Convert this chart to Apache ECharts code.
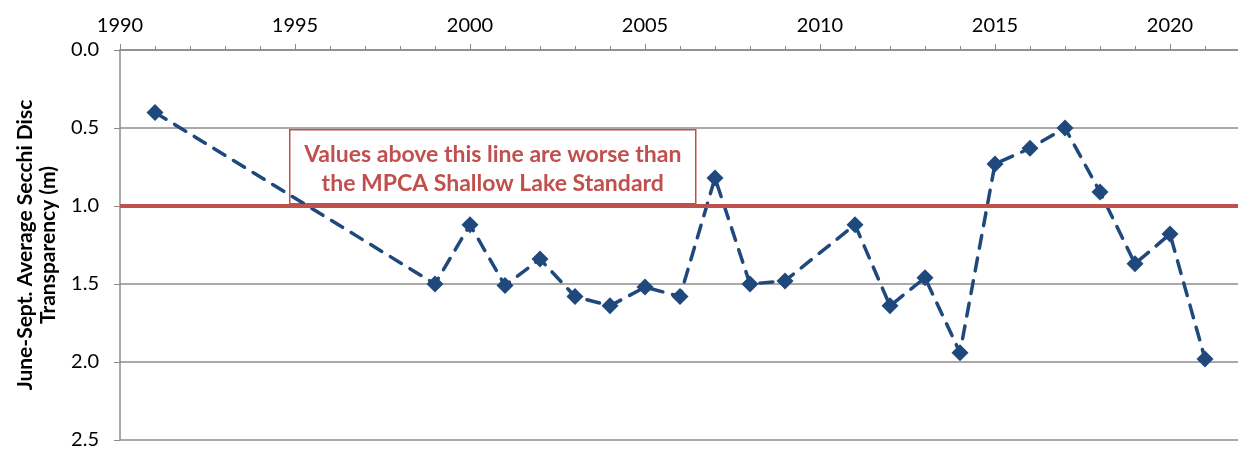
<!DOCTYPE html>
<html>
<head>
<meta charset="utf-8">
<script src="https://cdn.jsdelivr.net/npm/echarts@6/dist/echarts.min.js"></script>
<style>
html,body{margin:0;padding:0;background:#fff;}
#chart{width:1238px;height:453px;}
</style>
</head>
<body>
<div id="chart"></div>
<script>
var years = [1991, 1999, 2000, 2001, 2002, 2003, 2004, 2005, 2006, 2007, 2008, 2009, 2011, 2012, 2013, 2014, 2015, 2016, 2017, 2018, 2019, 2020, 2021];
var secchi = [0.40, 1.50, 1.12, 1.51, 1.34, 1.58, 1.64, 1.52, 1.58, 0.82, 1.50, 1.48, 1.12, 1.64, 1.46, 1.94, 0.73, 0.63, 0.50, 0.91, 1.37, 1.18, 1.98];
var standard = 1.0;
var yAxisTitle = 'June-Sept. Average Secchi Disc\nTransparency (m)';
var noteLines = 'Values above this line are worse than\nthe MPCA Shallow Lake Standard';

var FONT = 'Lato';
var chart = echarts.init(document.getElementById('chart'), null, {renderer: 'canvas'});
var data = years.map(function (y, i) { return [y, secchi[i]]; });

chart.setOption({
  animation: false,
  backgroundColor: '#ffffff',
  grid: {left: 120, right: -2, top: 50, bottom: 13, containLabel: false, outerBoundsMode: 'none'},
  xAxis: {
    type: 'value', position: 'top', min: 1990, max: 2022, interval: 5,
    axisLine: {show: true, onZero: false, lineStyle: {color: '#8c8c8c', width: 1.5}},
    axisTick: {show: true, inside: false, length: 6, lineStyle: {color: '#8c8c8c', width: 1}},
    minorTick: {show: true, splitNumber: 5, length: 4, lineStyle: {color: '#8c8c8c', width: 1}},
    axisLabel: {color: '#000', fontFamily: FONT, fontSize: 20, margin: 14, showMaxLabel: false,
      formatter: function (v) { return v % 5 === 0 ? String(v) : ''; }},
    splitLine: {show: false}
  },
  yAxis: {
    type: 'value', inverse: true, min: 0, max: 2.5, interval: 0.5,
    name: yAxisTitle, nameLocation: 'middle', nameRotate: 90, nameGap: 59,
    nameTextStyle: {color: '#000', fontFamily: FONT, fontSize: 21, fontWeight: 'bold', lineHeight: 23, align: 'center'},
    axisLine: {show: true, lineStyle: {color: '#8c8c8c', width: 1.5}},
    axisTick: {show: true, inside: false, length: 6, lineStyle: {color: '#8c8c8c'}},
    axisLabel: {color: '#000', fontFamily: FONT, fontSize: 20, margin: 21, formatter: function (v) { return v.toFixed(1); }},
    splitLine: {show: true, lineStyle: {color: '#8c8c8c', width: 1.5}}
  },
  series: [{
    type: 'line', data: data,
    symbol: 'diamond', symbolSize: 17,
    itemStyle: {color: '#1F497D'},
    lineStyle: {color: '#1F497D', width: 3.5, type: [13, 10], cap: 'round'},
    markLine: {
      silent: true, symbol: 'none', label: {show: false},
      lineStyle: {color: '#C0504D', width: 4, type: 'solid'},
      data: [{yAxis: standard}]
    },
    z: 3
  }],
  graphic: [{
    type: 'group', left: 289, top: 129, z: 10,
    children: [
      {type: 'rect', shape: {x: 0, y: 0, width: 406, height: 74}, style: {fill: '#fff', stroke: '#C0504D', lineWidth: 1.5}},
      {type: 'text', x: 203, y: 39, style: {text: noteLines, fill: '#C0504D', font: 'bold 23px Lato', align: 'center', verticalAlign: 'middle', lineHeight: 29}}
    ]
  }]
});
</script>
</body>
</html>
